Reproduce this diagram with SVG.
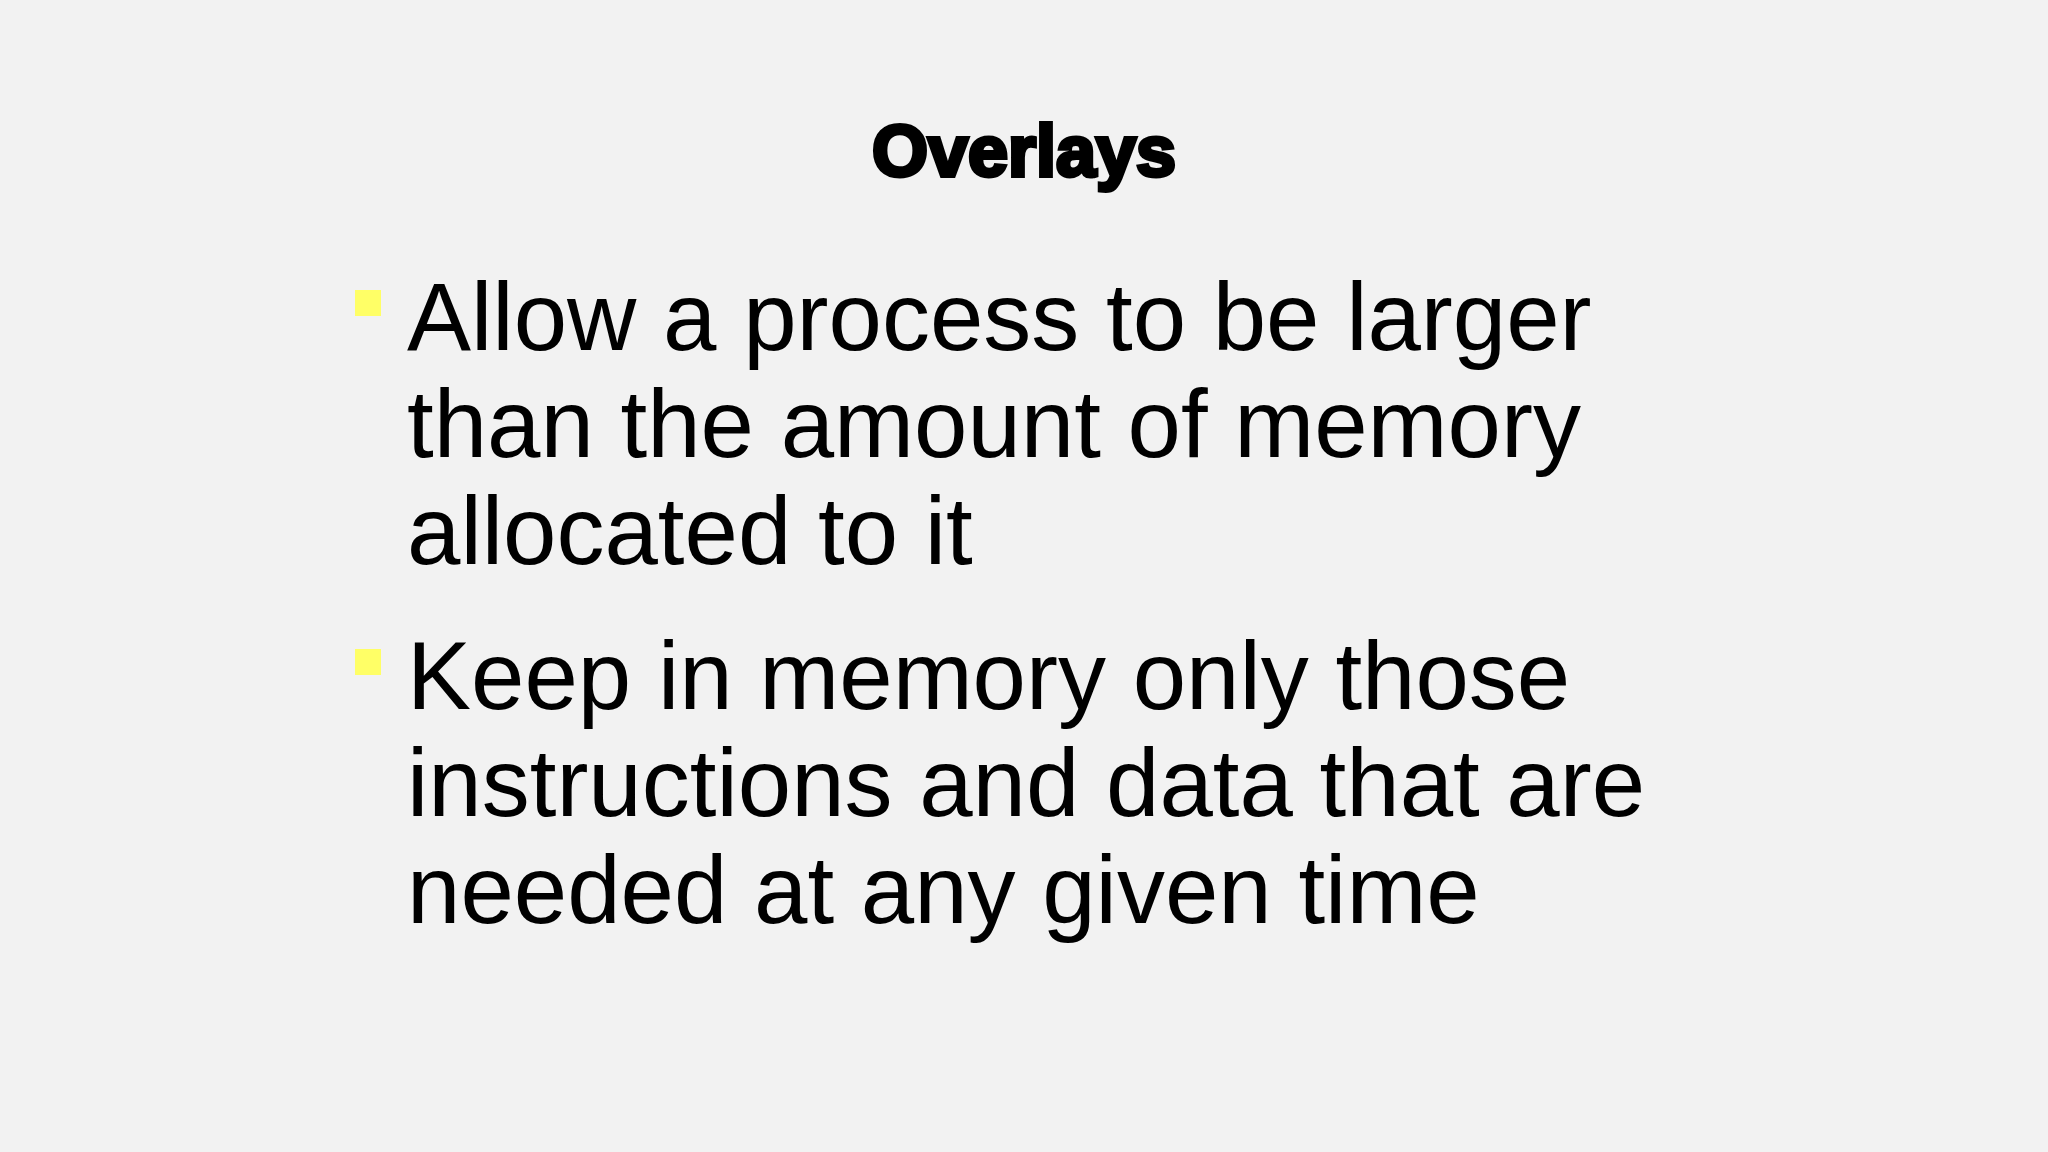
<svg xmlns="http://www.w3.org/2000/svg" width="2048" height="1152" viewBox="0 0 2048 1152">
<style>
.b{font-family:"Liberation Sans",Arial,sans-serif;font-size:96px;fill:#000}
.sq{fill:#FFFF66}
</style>
<rect width="2048" height="1152" fill="#F2F2F2"/>
<g id="title"><text x="1024" y="176" text-anchor="middle" font-family="'Liberation Sans',Arial,sans-serif" font-weight="bold" font-size="72" stroke="#000" stroke-width="4" fill="#000">Overlays</text></g>
<g id="bullet1">
<rect class="sq" x="355" y="290" width="26" height="26"/>
<text class="b" x="407" y="350">Allow a process to be larger</text>
<text class="b" x="407" y="457">than the amount of memory</text>
<text class="b" x="407" y="564">allocated to it</text>
</g>
<g id="bullet2">
<rect class="sq" x="355" y="649" width="26" height="26"/>
<text class="b" x="407" y="709">Keep in memory only those</text>
<text class="b" x="407" y="816">instructions and data that are</text>
<text class="b" x="407" y="923">needed at any given time</text>
</g>
</svg>
